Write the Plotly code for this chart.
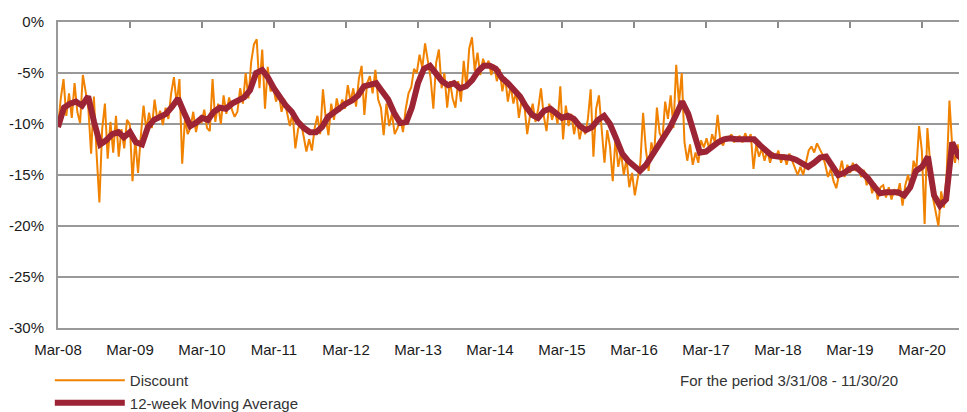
import pandas as pd
import plotly.graph_objects as go

# ---------------- data (values in %) ----------------
# Discount, bi-weekly observations starting 3/31/08
discount_2008_09 = [-10.3, -7.5, -5.6, -9.2, -7.0, -9.4, -6.0, -8.8, -9.9, -5.2, -6.8, -8.5, -12.9,
                    -7.3, -13.0, -17.7, -10.5, -8.0, -13.4, -9.8, -12.8, -9.2, -13.2, -10.5, -12.4, -9.6]
discount_2009_10 = [-10.0, -15.6, -11.5, -14.8, -11.2, -8.2, -10.6, -8.9, -10.4, -7.6, -9.6, -8.7, -10.1,
                    -8.4, -9.5, -7.0, -5.4, -8.0, -5.6, -13.9, -9.5, -11.0, -10.4, -8.8, -10.8, -9.5]
discount_2010_11 = [-9.9, -8.6, -10.4, -10.7, -5.6, -9.8, -8.0, -10.0, -7.2, -9.0, -7.4, -8.6, -9.3,
                    -8.8, -6.5, -8.0, -5.0, -7.5, -3.9, -2.2, -1.7, -6.5, -2.7, -8.5, -4.4, -6.8]
discount_2011_12 = [-6.4, -7.8, -7.0, -8.8, -7.6, -9.0, -10.2, -8.9, -12.4, -10.5, -9.8, -11.2, -12.7,
                    -11.5, -12.6, -10.4, -9.2, -11.0, -6.6, -9.4, -11.1, -8.0, -9.6, -7.5, -8.8, -7.6]
discount_2012_13 = [-8.5, -6.2, -7.8, -6.5, -8.3, -5.6, -4.3, -9.1, -6.0, -5.3, -7.0, -4.7, -7.6,
                    -8.4, -11.1, -8.0, -10.2, -9.0, -11.0, -10.4, -9.4, -10.8, -8.5, -7.0, -6.4, -4.6]
discount_2013_14 = [-5.0, -3.2, -4.5, -2.1, -3.8, -5.5, -8.5, -4.0, -2.7, -6.5, -5.0, -8.4, -5.8,
                    -7.5, -8.4, -5.8, -7.8, -3.8, -6.5, -2.6, -1.5, -4.8, -3.0, -5.2, -3.6, -4.4]
discount_2014_15 = [-3.8, -5.2, -4.2, -5.8, -4.6, -6.8, -5.4, -7.8, -6.2, -8.0, -6.8, -9.4, -7.6,
                    -8.2, -11.0, -9.2, -8.0, -9.8, -8.5, -6.5, -9.2, -10.7, -8.0, -9.6, -8.6, -10.0]
discount_2015_16 = [-6.3, -11.5, -8.2, -10.2, -9.0, -11.0, -9.5, -11.5, -10.2, -11.0, -9.5, -6.6, -13.2,
                    -8.5, -7.2, -11.0, -13.8, -10.6, -12.2, -15.6, -11.4, -14.2, -12.8, -15.0, -13.4, -16.2]
discount_2016_17 = [-14.8, -17.0, -15.5, -13.8, -8.9, -12.5, -14.6, -11.8, -13.0, -8.4, -10.9, -11.5, -7.8,
                    -9.5, -7.2, -10.4, -4.2, -8.0, -5.0, -11.8, -13.6, -12.0, -14.0, -12.8, -13.8, -11.6]
discount_2017_18 = [-12.3, -11.4, -12.5, -11.0, -11.8, -9.1, -11.7, -12.1, -11.2, -11.6, -11.0, -11.8, -11.3,
                    -11.2, -11.8, -10.9, -11.6, -11.0, -14.4, -12.0, -13.2, -12.4, -13.6, -12.6, -13.8, -12.8]
discount_2018_19 = [-13.4, -12.6, -13.8, -13.0, -14.0, -12.9, -13.6, -14.3, -15.0, -14.2, -15.0, -13.8, -12.6,
                    -12.2, -12.8, -11.9, -12.5, -13.0, -14.0, -15.2, -14.4, -15.6, -16.3, -14.8, -13.6, -15.2]
discount_2019_20 = [-14.0, -14.8, -13.8, -14.6, -14.2, -15.2, -14.5, -16.0, -15.4, -16.8, -15.8, -17.4, -16.2,
                    -16.0, -17.2, -16.2, -17.4, -16.4, -17.0, -15.8, -18.0, -16.0, -15.0, -16.2, -13.6, -14.5]
discount_2020 = [-10.2, -12.6, -19.8, -10.4, -14.2, -17.2, -18.6, -20.0, -16.6, -18.2, -14.8, -7.7, -12.2,
                 -13.8, -12.0, -14.5, -13.2, -15.4, -17.6]

# 12-week moving average, month-end readings starting 3/31/08
ma_2008_09 = [-10.3, -8.4, -8.0, -7.8, -8.2, -7.3, -9.8, -12.0, -11.6, -11.0, -10.8, -11.3]
ma_2009_10 = [-10.8, -11.8, -12.0, -10.3, -9.6, -9.3, -9.0, -8.3, -7.5, -8.9, -10.2, -9.9]
ma_2010_11 = [-9.4, -9.6, -8.8, -8.4, -8.5, -8.0, -7.7, -7.4, -6.7, -5.0, -4.7, -5.4]
ma_2011_12 = [-6.5, -7.4, -8.2, -8.8, -9.8, -10.4, -10.8, -10.8, -10.3, -9.3, -8.8, -8.4]
ma_2012_13 = [-8.0, -7.7, -7.2, -6.3, -6.1, -6.0, -6.8, -7.6, -8.9, -9.9, -9.8, -8.4]
ma_2013_14 = [-6.0, -4.6, -4.3, -5.1, -5.8, -6.2, -6.0, -6.5, -6.3, -5.7, -4.8, -4.3]
ma_2014_15 = [-4.3, -4.6, -5.5, -6.0, -6.6, -7.3, -8.3, -9.1, -9.4, -8.7, -8.5, -8.9]
ma_2015_16 = [-9.4, -9.2, -9.5, -10.2, -10.6, -10.3, -9.6, -9.2, -10.0, -11.4, -12.9, -13.6]
ma_2016_17 = [-14.2, -14.6, -14.0, -13.1, -12.0, -11.3, -10.3, -9.1, -7.8, -9.0, -10.8, -12.8]
ma_2017_18 = [-12.7, -12.2, -11.8, -11.5, -11.4, -11.5, -11.5, -11.5, -11.5, -12.1, -12.7, -13.1]
ma_2018_19 = [-13.2, -13.2, -13.3, -13.5, -13.8, -14.2, -13.8, -13.3, -13.2, -14.1, -15.0, -14.8]
ma_2019_20 = [-14.4, -14.2, -14.7, -15.3, -16.1, -16.8, -16.7, -16.7, -16.7, -17.0, -16.2, -14.6]
ma_2020 = [-14.2, -13.2, -17.0, -18.0, -17.4, -11.8, -13.1, -13.6, -14.9]

y_tick_values = [0, -5, -10, -15, -20, -25, -30]
y_tick_labels = ["0%", "-5%", "-10%", "-15%", "-20%", "-25%", "-30%"]
x_tick_dates = ["2008-03-31", "2009-03-31", "2010-03-31", "2011-03-31", "2012-03-31",
                "2013-03-31", "2014-03-31", "2015-03-31", "2016-03-31", "2017-03-31",
                "2018-03-31", "2019-03-31", "2020-03-31"]
x_tick_labels = ["Mar-08", "Mar-09", "Mar-10", "Mar-11", "Mar-12", "Mar-13", "Mar-14",
                 "Mar-15", "Mar-16", "Mar-17", "Mar-18", "Mar-19", "Mar-20"]
period_note = "For the period 3/31/08 - 11/30/20"

# ---------------- build series ----------------
discount = (discount_2008_09 + discount_2009_10 + discount_2010_11 + discount_2011_12 +
            discount_2012_13 + discount_2013_14 + discount_2014_15 + discount_2015_16 +
            discount_2016_17 + discount_2017_18 + discount_2018_19 + discount_2019_20 +
            discount_2020)
moving_avg = (ma_2008_09 + ma_2009_10 + ma_2010_11 + ma_2011_12 + ma_2012_13 + ma_2013_14 +
              ma_2014_15 + ma_2015_16 + ma_2016_17 + ma_2017_18 + ma_2018_19 + ma_2019_20 +
              ma_2020)

disc_dates = pd.date_range("2008-03-31", periods=len(discount), freq="14D")
ma_dates = pd.date_range("2008-03-31", periods=len(moving_avg), freq=pd.offsets.MonthEnd())

FONT = "Arial, 'Liberation Sans', sans-serif"
ORANGE = "#F08200"
MAROON = "#9C2434"
GRID = "#999999"
TEXT = "#1a1a1a"
FS = 15
X_RANGE = ["2008-03-31", "2020-11-14"]

fig = go.Figure()
fig.add_trace(go.Scatter(x=disc_dates, y=discount, mode="lines", name="Discount",
                         line=dict(color=ORANGE, width=2)))
fig.add_trace(go.Scatter(x=ma_dates, y=moving_avg, mode="lines", name="12-week Moving Average",
                         line=dict(color=MAROON, width=6)))
# helper trace so the top axis (tick marks on the 0% line) is drawn
fig.add_trace(go.Scatter(x=[disc_dates[0]], y=[discount[0]], xaxis="x2", mode="none",
                         showlegend=False, hoverinfo="skip"))

# the page body adds an 8px margin, so the figure is 8px smaller than the window
fig.update_layout(
    width=959, height=404,
    margin=dict(l=50, r=0, t=14, b=84, autoexpand=False),
    plot_bgcolor="white", paper_bgcolor="white",
    font=dict(family=FONT, size=FS, color=TEXT),
    showlegend=True,
    legend=dict(x=-0.009, y=-0.118, xanchor="left", yanchor="top", orientation="v",
                font=dict(family=FONT, size=FS, color="#333333"),
                itemwidth=70, bgcolor="rgba(0,0,0,0)", tracegroupgap=0),
    xaxis=dict(type="date", range=X_RANGE, automargin=False,
               tickvals=x_tick_dates, ticktext=x_tick_labels,
               ticks="", showgrid=False, zeroline=False,
               showline=True, mirror=True, linecolor=GRID, linewidth=2,
               ticklabelstandoff=7,
               tickfont=dict(family=FONT, size=FS, color=TEXT)),
    xaxis2=dict(type="date", overlaying="x", side="top", range=X_RANGE, automargin=False,
                tickvals=x_tick_dates, ticks="inside", ticklen=6, tickwidth=2,
                tickcolor="#8a8a8a", showticklabels=False, showgrid=False,
                showline=False, zeroline=False),
    yaxis=dict(range=[-30, 0], tickvals=y_tick_values, ticktext=y_tick_labels,
               automargin=False,
               ticks="", showgrid=True, gridcolor=GRID, gridwidth=2,
               zeroline=False, showline=True, linecolor=GRID, linewidth=2,
               ticklabelstandoff=9,
               tickfont=dict(family=FONT, size=FS, color=TEXT)),
    annotations=[dict(text=period_note, xref="paper", yref="paper", x=0.804, y=-0.17,
                      xanchor="center", yanchor="middle", showarrow=False,
                      font=dict(family=FONT, size=FS, color="#333333"))],
)

fig.write_html("out.html")
